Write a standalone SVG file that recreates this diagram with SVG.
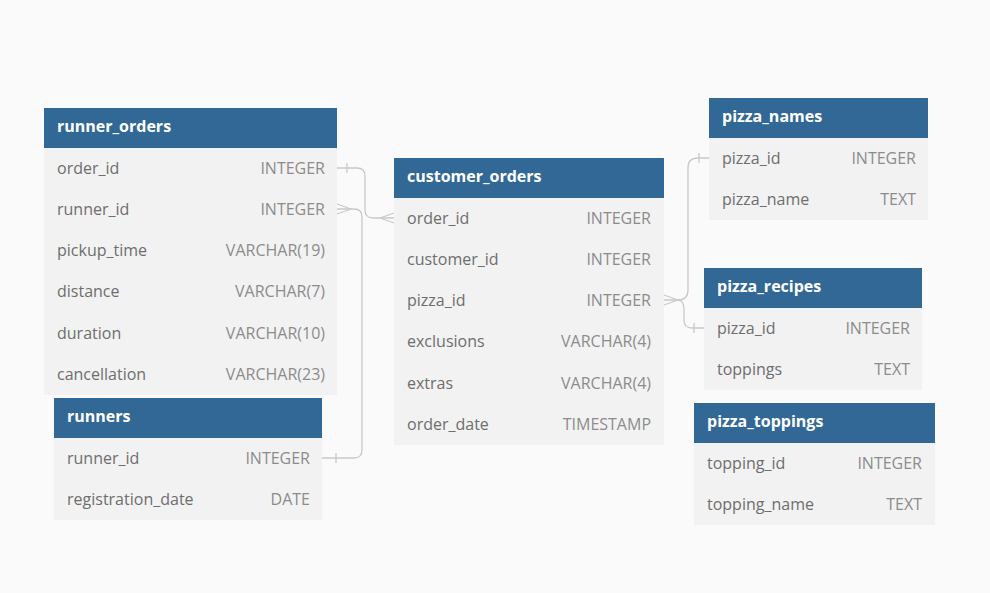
<svg xmlns="http://www.w3.org/2000/svg" width="990" height="593" viewBox="0 0 990 593">
<style>
.hd{fill:#326896}
.bd{fill:#f2f2f2}
.ht{font-family:"Open Sans","Liberation Sans",sans-serif;font-size:16px;font-weight:bold;fill:#ffffff}
.nm{font-family:"Open Sans","Liberation Sans",sans-serif;font-size:16px;fill:#6e6e6e}
.tp{font-family:"Open Sans","Liberation Sans",sans-serif;font-size:16px;fill:#8c8c8c;text-anchor:end}
.cn{fill:none;stroke:#c9c9c9;stroke-width:1.3}
</style>
<rect width="990" height="593" fill="#fafafa"/>
<g id="connectors">
<path class="cn" d="M337,168 H357 Q365,168 365,176 V210 Q365,218 373,218 H394"/>
<path class="cn" d="M347,163 V173"/>
<path class="cn" d="M380,218 L394,213 M380,218 L394,223"/>
<path class="cn" d="M322,458 H354 Q362,458 362,450 V217 Q362,209 354,209 H337"/>
<path class="cn" d="M336,453 V463"/>
<path class="cn" d="M351,209 L337,204 M351,209 L337,214"/>
<path class="cn" d="M664,300 H678 Q688,300 688,290 V168 Q688,158 698,158 H709"/>
<path class="cn" d="M699,153 V163"/>
<path class="cn" d="M678,300 Q684,300 684,310 V320 Q684,328 692,328 H704"/>
<path class="cn" d="M694,323 V333"/>
<path class="cn" d="M678,300 L664,295 M678,300 L664,305"/>
</g>
<g id="runner_orders">
<rect class="bd" x="44" y="148" width="293" height="247"/>
<rect class="hd" x="44" y="108" width="293" height="40"/>
<text class="ht" x="57" y="132">runner_orders</text>
<text class="nm" x="57" y="174">order_id</text><text class="tp" x="325" y="174">INTEGER</text>
<text class="nm" x="57" y="215">runner_id</text><text class="tp" x="325" y="215">INTEGER</text>
<text class="nm" x="57" y="256">pickup_time</text><text class="tp" x="325" y="256">VARCHAR(19)</text>
<text class="nm" x="57" y="297">distance</text><text class="tp" x="325" y="297">VARCHAR(7)</text>
<text class="nm" x="57" y="339">duration</text><text class="tp" x="325" y="339">VARCHAR(10)</text>
<text class="nm" x="57" y="380">cancellation</text><text class="tp" x="325" y="380">VARCHAR(23)</text>
</g>
<g id="runners">
<rect class="bd" x="54" y="438" width="268" height="82"/>
<rect class="hd" x="54" y="398" width="268" height="40"/>
<text class="ht" x="67" y="422">runners</text>
<text class="nm" x="67" y="464">runner_id</text><text class="tp" x="310" y="464">INTEGER</text>
<text class="nm" x="67" y="505">registration_date</text><text class="tp" x="310" y="505">DATE</text>
</g>
<g id="customer_orders">
<rect class="bd" x="394" y="198" width="270" height="247"/>
<rect class="hd" x="394" y="158" width="270" height="40"/>
<text class="ht" x="407" y="182">customer_orders</text>
<text class="nm" x="407" y="224">order_id</text><text class="tp" x="651" y="224">INTEGER</text>
<text class="nm" x="407" y="265">customer_id</text><text class="tp" x="651" y="265">INTEGER</text>
<text class="nm" x="407" y="306">pizza_id</text><text class="tp" x="651" y="306">INTEGER</text>
<text class="nm" x="407" y="347">exclusions</text><text class="tp" x="651" y="347">VARCHAR(4)</text>
<text class="nm" x="407" y="389">extras</text><text class="tp" x="651" y="389">VARCHAR(4)</text>
<text class="nm" x="407" y="430">order_date</text><text class="tp" x="651" y="430">TIMESTAMP</text>
</g>
<g id="pizza_names">
<rect class="bd" x="709" y="138" width="219" height="82"/>
<rect class="hd" x="709" y="98" width="219" height="40"/>
<text class="ht" x="722" y="122">pizza_names</text>
<text class="nm" x="722" y="164">pizza_id</text><text class="tp" x="916" y="164">INTEGER</text>
<text class="nm" x="722" y="205">pizza_name</text><text class="tp" x="916" y="205">TEXT</text>
</g>
<g id="pizza_recipes">
<rect class="bd" x="704" y="308" width="218" height="82"/>
<rect class="hd" x="704" y="268" width="218" height="40"/>
<text class="ht" x="717" y="292">pizza_recipes</text>
<text class="nm" x="717" y="334">pizza_id</text><text class="tp" x="910" y="334">INTEGER</text>
<text class="nm" x="717" y="375">toppings</text><text class="tp" x="910" y="375">TEXT</text>
</g>
<g id="pizza_toppings">
<rect class="bd" x="694" y="443" width="241" height="82"/>
<rect class="hd" x="694" y="403" width="241" height="40"/>
<text class="ht" x="707" y="427">pizza_toppings</text>
<text class="nm" x="707" y="469">topping_id</text><text class="tp" x="922" y="469">INTEGER</text>
<text class="nm" x="707" y="510">topping_name</text><text class="tp" x="922" y="510">TEXT</text>
</g>
</svg>
